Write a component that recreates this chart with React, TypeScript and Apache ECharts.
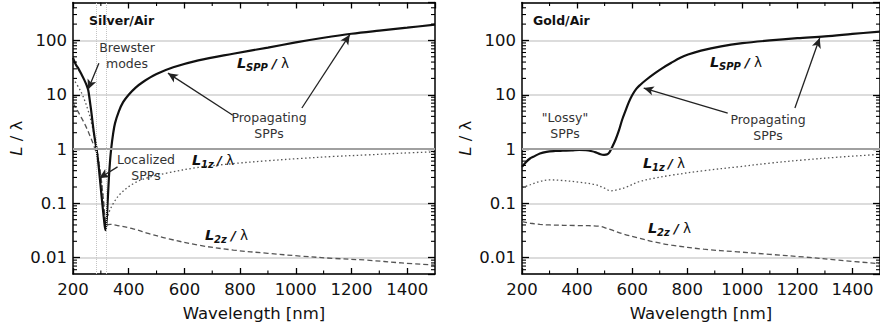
import React, { useEffect, useRef } from 'react';
import * as echarts from 'echarts';

// ---------- data (wavelength nm, L/lambda) ----------
const silverSPP: number[][] = [
  [200, 48], [210, 36], [220, 30], [230, 24], [240, 19], [250, 14.5], [255, 12], [260, 8], [265, 5.2], [270, 3.2],
  [275, 2], [280, 1.35], [285, 0.96], [291, 0.55], [297, 0.27], [303, 0.13], [309, 0.065], [314, 0.038], [317, 0.032],
  [321, 0.05], [325, 0.12], [329, 0.3], [333, 0.6], [337, 1.0], [344, 1.9], [351, 3], [365, 5], [380, 7.3],
  [400, 10], [425, 13.5], [450, 17], [500, 24], [560, 32], [650, 43], [775, 57], [900, 74], [1000, 92],
  [1100, 112], [1200, 133], [1300, 152], [1400, 172], [1500, 195],
];
const silverL1z: number[][] = [
  [200, 20], [230, 11], [255, 5], [270, 2.5], [285, 1.1], [297, 0.4], [307, 0.15], [314, 0.06], [318, 0.045],
  [322, 0.05], [330, 0.07], [345, 0.1], [370, 0.15], [416, 0.23], [470, 0.3], [536, 0.36], [650, 0.46], [776, 0.54],
  [900, 0.61], [1015, 0.67], [1135, 0.73], [1255, 0.78], [1380, 0.84], [1500, 0.89],
];
const silverL2z: number[][] = [
  [200, 7], [215, 5.2], [230, 3.8], [245, 2.7], [260, 1.8], [275, 1.15], [288, 0.7], [298, 0.38], [306, 0.17],
  [312, 0.08], [316, 0.045], [322, 0.04], [333, 0.041], [360, 0.039], [416, 0.034], [470, 0.028], [536, 0.0227],
  [650, 0.017], [776, 0.0138], [900, 0.012], [1015, 0.0107], [1135, 0.0097], [1255, 0.009], [1380, 0.008], [1500, 0.0073],
];
const goldSPP: number[][] = [
  [200, 0.47], [215, 0.58], [229, 0.67], [241, 0.72], [265, 0.83], [289, 0.89], [320, 0.92], [348, 0.93],
  [380, 0.94], [408, 0.96], [432, 0.95], [450, 0.92], [468, 0.87], [485, 0.8], [498, 0.78], [510, 0.8], [518, 0.88],
  [528, 1.1], [540, 1.5], [552, 2.2], [564, 3.5], [576, 5.1], [588, 7.3], [600, 9.8], [615, 12.8], [630, 15.3],
  [650, 18.7], [683, 25], [710, 31], [743, 39], [775, 48], [803, 55], [850, 65], [923, 78], [1000, 89],
  [1100, 100], [1200, 110], [1300, 119], [1400, 132], [1500, 146],
];
const goldL1z: number[][] = [
  [200, 0.194], [230, 0.22], [260, 0.25], [300, 0.27], [340, 0.265], [408, 0.245], [468, 0.22], [500, 0.19],
  [522, 0.17], [550, 0.18], [580, 0.2], [624, 0.25], [680, 0.29], [743, 0.33], [860, 0.4], [983, 0.47], [1100, 0.55],
  [1222, 0.63], [1350, 0.71], [1500, 0.8],
];
const goldL2z: number[][] = [
  [200, 0.046], [230, 0.043], [265, 0.041], [300, 0.04], [400, 0.039], [480, 0.038], [505, 0.035], [528, 0.032],
  [570, 0.027], [624, 0.023], [680, 0.0195], [743, 0.017], [860, 0.0143], [983, 0.0128], [1100, 0.0115],
  [1222, 0.0103], [1350, 0.009], [1500, 0.0077],
];

// axis ticks
const X_MIN = 200, X_MAX = 1500, X_STEP = 200;
const Y_MIN = 0.005, Y_MAX = 500;
const xMinorTicks = [300, 500, 700, 900, 1100, 1300];
const yMinorTicks = [
  0.006, 0.007, 0.008, 0.009,
  0.02, 0.03, 0.04, 0.05, 0.06, 0.07, 0.08, 0.09,
  0.2, 0.3, 0.4, 0.5, 0.6, 0.7, 0.8, 0.9,
  2, 3, 4, 5, 6, 7, 8, 9,
  20, 30, 40, 50, 60, 70, 80, 90,
  200, 300, 400,
];

// annotation arrows [from, to] in data coordinates
const silverArrows = [
  [[293, 38], [254, 12.5]],
  [[360, 0.47], [294, 0.29]],
  [[774, 4.2], [541, 25]],
  [[1022, 5.7], [1194, 128]],
];
const goldArrows = [
  [[947, 4.6], [642, 13.3]],
  [[1191, 5.7], [1281, 111]],
];

const FONT = 'DejaVu Sans';

function xAxes(gridIndex: number) {
  const line = { show: true, onZero: false, lineStyle: { color: '#000', width: 1.5 } };
  return [
    {
      type: 'value', gridIndex, min: X_MIN, max: X_MAX, interval: X_STEP, position: 'bottom',
      axisLine: line,
      axisTick: { inside: true, length: 6, lineStyle: { color: '#000', width: 1.3 } },
      axisLabel: {
        color: '#111', fontSize: 16.5, fontFamily: FONT, margin: 7, showMaxLabel: false,
        formatter: (v: number) => String(v),
      },
      splitLine: { show: false },
      name: 'Wavelength [nm]', nameLocation: 'middle', nameGap: 31,
      nameTextStyle: { color: '#111', fontSize: 16.5, fontFamily: FONT },
    },
    {
      type: 'value', gridIndex, min: X_MIN, max: X_MAX, interval: X_STEP, position: 'top',
      axisLine: line,
      axisTick: { inside: true, length: 6, lineStyle: { color: '#000', width: 1.3 } },
      axisLabel: { show: false },
      splitLine: { show: false },
    },
  ];
}

function yAxes(gridIndex: number) {
  const line = { show: true, onZero: false, lineStyle: { color: '#000', width: 1.5 } };
  return [
    {
      type: 'log', logBase: 10, gridIndex, min: Y_MIN, max: Y_MAX, position: 'left',
      axisLine: line,
      axisTick: { inside: true, length: 7, lineStyle: { color: '#000', width: 1.3 } },
      axisLabel: {
        color: '#111', fontSize: 16.5, fontFamily: FONT, margin: 6, showMinLabel: false, showMaxLabel: false,
        formatter: (v: number) => String(Number(Number(v).toPrecision(3))),
      },
      splitLine: { show: true, lineStyle: { color: '#d0d0d0', width: 1.5 } },
      name: '{i|L} / λ', nameLocation: 'middle', nameGap: 48,
      nameTextStyle: {
        color: '#111', fontSize: 16.5, fontFamily: FONT,
        rich: { i: { fontStyle: 'italic', fontSize: 16.5, fontFamily: FONT, color: '#111' } },
      },
    },
    {
      type: 'log', logBase: 10, gridIndex, min: Y_MIN, max: Y_MAX, position: 'right',
      axisLine: line,
      axisTick: { inside: true, length: 7, lineStyle: { color: '#000', width: 1.3 } },
      axisLabel: { show: false },
      splitLine: { show: false },
    },
  ];
}

function tickSeries(xi: number, yi: number) {
  const tickStyle = { stroke: '#000', lineWidth: 1.1 };
  return [
    {
      type: 'custom', xAxisIndex: xi, yAxisIndex: yi, silent: true, clip: false, z: 5,
      data: yMinorTicks.map((v) => [X_MIN, v]),
      renderItem: (params: any, api: any) => {
        const cs = params.coordSys;
        const p = api.coord([X_MIN, api.value(1)]);
        return {
          type: 'group',
          children: [
            { type: 'line', shape: { x1: cs.x, y1: p[1], x2: cs.x + 4, y2: p[1] }, style: tickStyle },
            { type: 'line', shape: { x1: cs.x + cs.width - 4, y1: p[1], x2: cs.x + cs.width, y2: p[1] }, style: tickStyle },
          ],
        };
      },
    },
    {
      type: 'custom', xAxisIndex: xi, yAxisIndex: yi, silent: true, clip: false, z: 5,
      data: xMinorTicks.map((v) => [v, 1]),
      renderItem: (params: any, api: any) => {
        const cs = params.coordSys;
        const p = api.coord([api.value(0), 1]);
        return {
          type: 'group',
          children: [
            { type: 'line', shape: { x1: p[0], y1: cs.y + cs.height, x2: p[0], y2: cs.y + cs.height - 3.5 }, style: tickStyle },
            { type: 'line', shape: { x1: p[0], y1: cs.y, x2: p[0], y2: cs.y + 3.5 }, style: tickStyle },
          ],
        };
      },
    },
  ];
}

function arrowMarks(arrows: number[][][]) {
  return {
    silent: true,
    symbol: ['none', 'arrow'],
    symbolSize: [7, 10],
    label: { show: false },
    lineStyle: { color: '#222', width: 1.3, type: 'solid' },
    data: arrows.map((a) => [{ coord: a[0] }, { coord: a[1] }]),
  };
}

function refSeries(xi: number, yi: number, verticals: number[]) {
  const data: any[] = [{ yAxis: 1, lineStyle: { color: '#a0a0a0', width: 2, type: 'solid' } }];
  verticals.forEach((v) => data.push({ xAxis: v, lineStyle: { color: '#c4c4c4', width: 1, type: 'dotted' } }));
  return {
    type: 'line', xAxisIndex: xi, yAxisIndex: yi, z: 1, silent: true,
    data: [[X_MIN, 1]], showSymbol: false, lineStyle: { width: 0, opacity: 0 },
    markLine: { silent: true, symbol: 'none', label: { show: false }, data },
  };
}

function curves(xi: number, yi: number, spp: number[][], l1z: number[][], l2z: number[][], arrows: number[][][]) {
  const base = { type: 'line', xAxisIndex: xi, yAxisIndex: yi, showSymbol: false, smooth: 0.35, silent: true, z: 3 };
  return [
    { ...base, name: 'L2z', data: l2z, lineStyle: { color: '#555', width: 1.3, type: [5, 3] } },
    { ...base, name: 'L1z', data: l1z, lineStyle: { color: '#555', width: 1.3, type: [1.5, 2.5] } },
    { ...base, name: 'LSPP', data: spp, lineStyle: { color: '#111', width: 2.2 }, markLine: arrowMarks(arrows) },
  ];
}

function note(x: number, y: number, text: string, opts: any = {}) {
  return {
    type: 'text', x, y, silent: true, z: 10,
    style: {
      text, fill: opts.fill || '#333', fontSize: opts.size || 12.5, fontFamily: FONT,
      fontWeight: opts.weight || 'normal', fontStyle: opts.style || 'normal',
      align: opts.align || 'center', verticalAlign: 'middle', lineHeight: opts.lh || 16,
    },
  };
}

function curveLabel(x: number, y: number, sub: string, subW: number) {
  return [
    note(x, y, 'L', { fill: '#111', size: 14.5, weight: 'bold', style: 'italic', align: 'left' }),
    note(x + 9, y + 4.5, sub, { fill: '#111', size: 10, weight: 'bold', style: 'italic', align: 'left' }),
    note(x + 13 + subW, y, '/', { fill: '#111', size: 13, weight: 'bold', style: 'italic', align: 'left' }),
    note(x + 22 + subW, y, 'λ', { fill: '#111', size: 13.5, align: 'left' }),
  ];
}

const option: any = {
  animation: false,
  backgroundColor: '#fff',
  grid: [
    { left: 73, top: 2.5, width: 362, height: 271.5 },
    { left: 522, top: 2.5, width: 362, height: 271.5 },
  ],
  xAxis: [...xAxes(0), ...xAxes(1)],
  yAxis: [...yAxes(0), ...yAxes(1)],
  series: [
    refSeries(0, 0, [283, 318]),
    refSeries(2, 2, []),
    ...curves(0, 0, silverSPP, silverL1z, silverL2z, silverArrows),
    ...curves(2, 2, goldSPP, goldL1z, goldL2z, goldArrows),
    ...tickSeries(0, 0),
    ...tickSeries(2, 2),
  ],
  graphic: [
    note(89, 20, 'Silver/Air', { fill: '#111', weight: 'bold', align: 'left', size: 12.5 }),
    note(127, 55, 'Brewster\nmodes'),
    note(146, 167.5, 'Localized\nSPPs'),
    note(269, 125.5, 'Propagating\nSPPs'),
    ...curveLabel(237, 63, 'SPP', 22),
    ...curveLabel(192, 160, '1z', 12),
    ...curveLabel(205, 235, '2z', 13),
    note(533, 20, 'Gold/Air', { fill: '#111', weight: 'bold', align: 'left', size: 12.5 }),
    note(565, 125, '"Lossy"\nSPPs'),
    note(768, 127, 'Propagating\nSPPs'),
    ...curveLabel(710, 62, 'SPP', 22),
    ...curveLabel(643, 163, '1z', 12),
    ...curveLabel(648, 228, '2z', 13),
  ],
};

export default function App() {
  const ref = useRef<HTMLDivElement>(null);
  useEffect(() => {
    const chart = echarts.init(ref.current as HTMLDivElement, null, { renderer: 'svg' });
    chart.setOption(option);
    return () => chart.dispose();
  }, []);
  return (
    <div
      ref={ref}
      style={{ position: 'absolute', left: 0, top: 0, width: 880, height: 331, background: '#fff' }}
    />
  );
}
